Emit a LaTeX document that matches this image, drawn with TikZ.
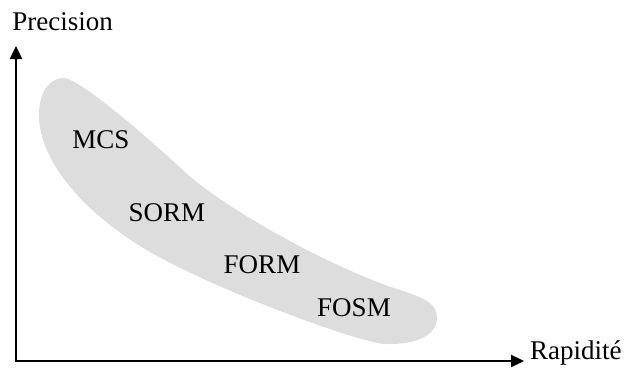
\documentclass[tikz,border=0pt]{standalone}
\usepackage{fontspec}
\setmainfont{Liberation Serif}
\usetikzlibrary{arrows.meta}
\definecolor{blobgray}{HTML}{DDDDDD}
\begin{document}
\begin{tikzpicture}[x=1pt,y=-1pt,
  lbl/.style={inner sep=0pt,font=\fontsize{27}{31}\selectfont},
  axis/.style={line width=2.4pt,-{Triangle[length=13pt,width=12pt]}}]
\useasboundingbox (0,0) rectangle (625,370);
\fill[blobgray] (39,118) .. controls (38,92) and (50,78) .. (64,78)
  .. controls (80,79) and (145,135) .. (185,172)
  .. controls (215,200) and (300,252) .. (380,283)
  .. controls (412,295) and (437,298) .. (437,318)
  .. controls (437,338) and (410,345) .. (385,344)
  .. controls (360,343) and (220,292) .. (150,252)
  .. controls (95,220) and (42,170) .. (39,118) -- cycle;
\coordinate (o) at (16,361);
\coordinate (ytip) at (16,46);
\coordinate (xtip) at (524,361);
\draw[axis] ([yshift=1.2pt]o) -- (ytip);
\draw[axis] ([xshift=-1.2pt]o) -- (xtip);
\node[lbl] (prec) at (62.7,22) {Precision};
\node[lbl,anchor=base west] (rap) at (530,359) {Rapidité};
\node[lbl] (mcs) at (101,140) {MCS};
\node[lbl] (sorm) at (167,213) {SORM};
\node[lbl] (form) at (262,265) {FORM};
\node[lbl] (fosm) at (354,308) {FOSM};
\end{tikzpicture}
\end{document}
